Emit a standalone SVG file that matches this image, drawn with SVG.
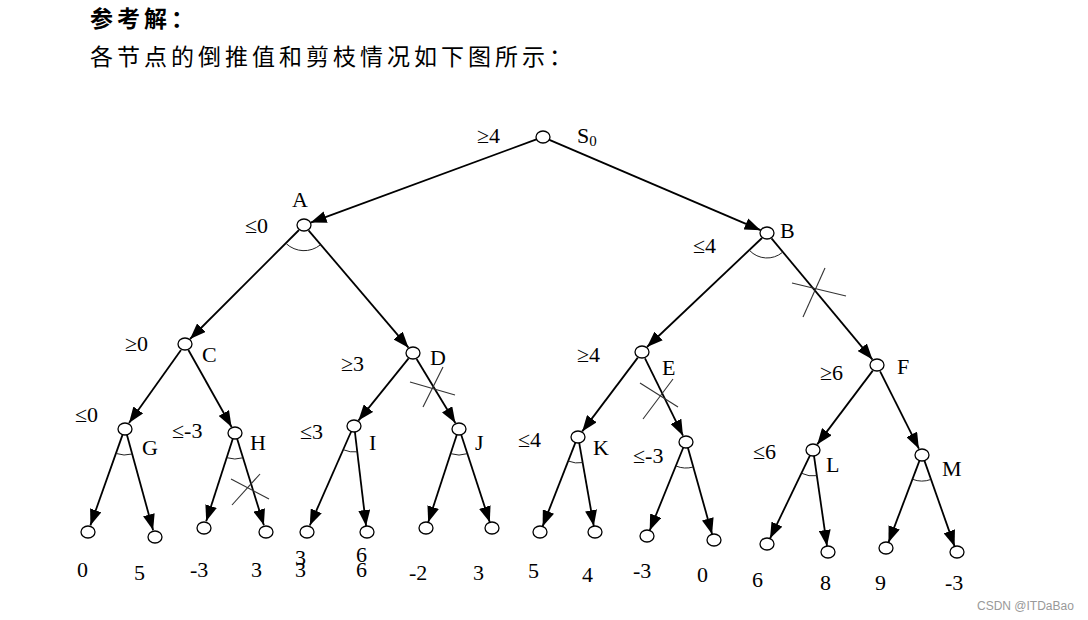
<svg xmlns="http://www.w3.org/2000/svg" width="1088" height="620" viewBox="0 0 1088 620">
<style>
.t{font-family:"Liberation Serif","Times New Roman",serif;font-size:22px;fill:#000}
.sub{font-size:15px}
.title{font-family:"Noto Sans CJK SC",sans-serif;font-size:23px;letter-spacing:4px;fill:#000}
.e{stroke:#000;stroke-width:1.8;fill:none;marker-end:url(#ah)}
.arc{stroke:#222;stroke-width:1;fill:none}
.x{stroke:#333;stroke-width:1.1}
.n{fill:#fff;stroke:#000;stroke-width:1.3}
.wm{font-family:"Liberation Sans",Arial,sans-serif;font-size:12px;fill:#999}
</style>
<defs>
<marker id="ah" viewBox="0 0 16 12" refX="16" refY="6" markerWidth="16" markerHeight="12" markerUnits="userSpaceOnUse" orient="auto">
<path d="M0,0 L16,6 L0,12 z" fill="#000"/>
</marker>
</defs>
<rect width="1088" height="620" fill="#fff"/>
<g id="title">
<text class="title" x="90" y="27" font-weight="bold">参考解：</text>
<text class="title" x="90" y="65">各节点的倒推值和剪枝情况如下图所示：</text>
</g>
<g id="connectors">
<line class="e" x1="536.4" y1="139.4" x2="310.6" y2="222.6"/>
<line class="e" x1="549.4" y1="139.8" x2="760.6" y2="230.2"/>
<line class="e" x1="299" y1="230" x2="190" y2="339"/>
<line class="e" x1="308.5" y1="230.3" x2="408.5" y2="347.7"/>
<line class="e" x1="762" y1="238" x2="647" y2="347"/>
<line class="e" x1="771.5" y1="238.4" x2="872.5" y2="359.6"/>
<line class="e" x1="181" y1="350" x2="129" y2="423"/>
<line class="e" x1="188.4" y1="350" x2="231.6" y2="427"/>
<line class="e" x1="408.6" y1="358.4" x2="358.4" y2="420.6"/>
<line class="e" x1="416.6" y1="359" x2="455.4" y2="423"/>
<line class="e" x1="637.8" y1="357.6" x2="582.2" y2="431.4"/>
<line class="e" x1="645" y1="358.3" x2="683" y2="435.7"/>
<line class="e" x1="872.8" y1="370.6" x2="817.2" y2="444.4"/>
<line class="e" x1="880.1" y1="371.3" x2="918.9" y2="448.7"/>
<line class="e" x1="122.6" y1="434.6" x2="90.4" y2="525.4"/>
<line class="e" x1="126.9" y1="434.8" x2="153.1" y2="530.2"/>
<line class="e" x1="232.8" y1="438.7" x2="206.2" y2="521.3"/>
<line class="e" x1="237.1" y1="438.7" x2="263.9" y2="525.3"/>
<line class="e" x1="351.2" y1="431.5" x2="309.8" y2="525.5"/>
<line class="e" x1="354.9" y1="432" x2="366.1" y2="526"/>
<line class="e" x1="456.8" y1="434.7" x2="428.2" y2="522.3"/>
<line class="e" x1="461.2" y1="434.7" x2="489.8" y2="522.3"/>
<line class="e" x1="575.4" y1="442.6" x2="542.6" y2="526.4"/>
<line class="e" x1="579.2" y1="442.9" x2="593.8" y2="526.1"/>
<line class="e" x1="683.3" y1="447.5" x2="649.7" y2="530.5"/>
<line class="e" x1="687.9" y1="447.8" x2="712.1" y2="534.2"/>
<line class="e" x1="810" y1="455.4" x2="770" y2="538.6"/>
<line class="e" x1="814" y1="455.9" x2="827" y2="546"/>
<line class="e" x1="919.5" y1="460.6" x2="888.5" y2="542.4"/>
<line class="e" x1="924.4" y1="460.6" x2="954.6" y2="546.4"/>
<!-- AND arcs -->
<path class="arc" d="M286.3,243.7 A26,26 0 0 0 320.2,245"/>
<path class="arc" d="M749.6,250.5 A24,24 0 0 0 782.4,252.4"/>
<path class="arc" d="M116.2,453.5 A26,26 0 0 0 132,454"/>
<path class="arc" d="M226.9,457.7 A26,26 0 0 0 242.8,457.8"/>
<path class="arc" d="M343.5,449.8 A26,26 0 0 0 357.2,451.8"/>
<path class="arc" d="M450.8,453.7 A26,26 0 0 0 467.2,453.7"/>
<path class="arc" d="M568.4,461.1 A26,26 0 0 0 582.6,462.6"/>
<path class="arc" d="M676,466 A26,26 0 0 0 693.2,467"/>
<path class="arc" d="M801.6,473.3 A26,26 0 0 0 816.8,475.7"/>
<path class="arc" d="M912.6,479.3 A26,26 0 0 0 930.8,479.5"/>
<!-- pruning crosses -->
<line class="x" x1="792" y1="283" x2="846" y2="296"/>
<line class="x" x1="803" y1="317" x2="825" y2="268"/>
<line class="x" x1="410" y1="382" x2="455" y2="395"/>
<line class="x" x1="423" y1="407" x2="443" y2="367"/>
<line class="x" x1="640" y1="383" x2="678" y2="407"/>
<line class="x" x1="643" y1="419" x2="673" y2="379"/>
<line class="x" x1="231" y1="479" x2="269" y2="499"/>
<line class="x" x1="232" y1="505" x2="260" y2="474"/>
</g>
<g id="S0"><ellipse class="n" cx="543" cy="137" rx="7" ry="6"/><text class="t" x="477" y="143">≥4</text><text class="t" x="577" y="143">S<tspan class="sub" dy="3">0</tspan></text></g>
<g id="A"><ellipse class="n" cx="304" cy="225" rx="7" ry="6"/><text class="t" x="292" y="207">A</text><text class="t" x="245" y="233">≤0</text></g>
<g id="B"><ellipse class="n" cx="767" cy="233" rx="7" ry="6"/><text class="t" x="780" y="238">B</text><text class="t" x="693" y="253">≤4</text></g>
<g id="C"><ellipse class="n" cx="185" cy="344" rx="7" ry="6"/><text class="t" x="202" y="362">C</text><text class="t" x="125" y="351">≥0</text></g>
<g id="D"><ellipse class="n" cx="413" cy="353" rx="7" ry="6"/><text class="t" x="430" y="365">D</text><text class="t" x="341" y="371">≥3</text></g>
<g id="E"><ellipse class="n" cx="642" cy="352" rx="7" ry="6"/><text class="t" x="662" y="375">E</text><text class="t" x="577" y="362">≥4</text></g>
<g id="F"><ellipse class="n" cx="877" cy="365" rx="7" ry="6"/><text class="t" x="897" y="374">F</text><text class="t" x="820" y="380">≥6</text></g>
<g id="G"><ellipse class="n" cx="125" cy="429" rx="7" ry="6"/><text class="t" x="142" y="455">G</text><text class="t" x="75" y="422">≤0</text></g>
<g id="H"><ellipse class="n" cx="235" cy="433" rx="7" ry="6"/><text class="t" x="250" y="450">H</text><text class="t" x="172" y="438">≤-3</text></g>
<g id="I"><ellipse class="n" cx="354" cy="426" rx="7" ry="6"/><text class="t" x="369" y="450">I</text><text class="t" x="300" y="439">≤3</text></g>
<g id="J"><ellipse class="n" cx="459" cy="429" rx="7" ry="6"/><text class="t" x="475" y="450">J</text></g>
<g id="K"><ellipse class="n" cx="578" cy="437" rx="7" ry="6"/><text class="t" x="593" y="455">K</text><text class="t" x="518" y="447">≤4</text></g>
<g id="EC"><ellipse class="n" cx="686" cy="442" rx="7" ry="6"/><text class="t" x="633" y="463">≤-3</text></g>
<g id="L"><ellipse class="n" cx="813" cy="450" rx="7" ry="6"/><text class="t" x="826" y="472">L</text><text class="t" x="753" y="459">≤6</text></g>
<g id="M"><ellipse class="n" cx="922" cy="455" rx="7" ry="6"/><text class="t" x="942" y="476">M</text></g>
<g id="leaf1"><ellipse class="n" cx="88" cy="532" rx="7" ry="6"/><text class="t" x="77" y="577">0</text></g>
<g id="leaf2"><ellipse class="n" cx="155" cy="537" rx="7" ry="6"/><text class="t" x="134" y="580">5</text></g>
<g id="leaf3"><ellipse class="n" cx="204" cy="528" rx="7" ry="6"/><text class="t" x="190" y="577">-3</text></g>
<g id="leaf4"><ellipse class="n" cx="266" cy="532" rx="7" ry="6"/><text class="t" x="251" y="577">3</text></g>
<g id="leaf5"><ellipse class="n" cx="307" cy="532" rx="7" ry="6"/><text class="t" x="295" y="565">3</text><text class="t" x="295" y="577">3</text></g>
<g id="leaf6"><ellipse class="n" cx="367" cy="532" rx="7" ry="6"/><text class="t" x="356" y="562">6</text><text class="t" x="356" y="577">6</text></g>
<g id="leaf7"><ellipse class="n" cx="426" cy="528" rx="7" ry="6"/><text class="t" x="409" y="580">-2</text></g>
<g id="leaf8"><ellipse class="n" cx="492" cy="528" rx="7" ry="6"/><text class="t" x="473" y="580">3</text></g>
<g id="leaf9"><ellipse class="n" cx="540" cy="532" rx="7" ry="6"/><text class="t" x="528" y="578">5</text></g>
<g id="leaf10"><ellipse class="n" cx="595" cy="532" rx="7" ry="6"/><text class="t" x="582" y="582">4</text></g>
<g id="leaf11"><ellipse class="n" cx="647" cy="536" rx="7" ry="6"/><text class="t" x="633" y="578">-3</text></g>
<g id="leaf12"><ellipse class="n" cx="714" cy="540" rx="7" ry="6"/><text class="t" x="697" y="582">0</text></g>
<g id="leaf13"><ellipse class="n" cx="767" cy="544" rx="7" ry="6"/><text class="t" x="752" y="587">6</text></g>
<g id="leaf14"><ellipse class="n" cx="828" cy="552" rx="7" ry="6"/><text class="t" x="820" y="590">8</text></g>
<g id="leaf15"><ellipse class="n" cx="886" cy="548" rx="7" ry="6"/><text class="t" x="875" y="590">9</text></g>
<g id="leaf16"><ellipse class="n" cx="957" cy="552" rx="7" ry="6"/><text class="t" x="945" y="590">-3</text></g>
<text class="wm" x="977" y="610">CSDN @ITDaBao</text>
</svg>
